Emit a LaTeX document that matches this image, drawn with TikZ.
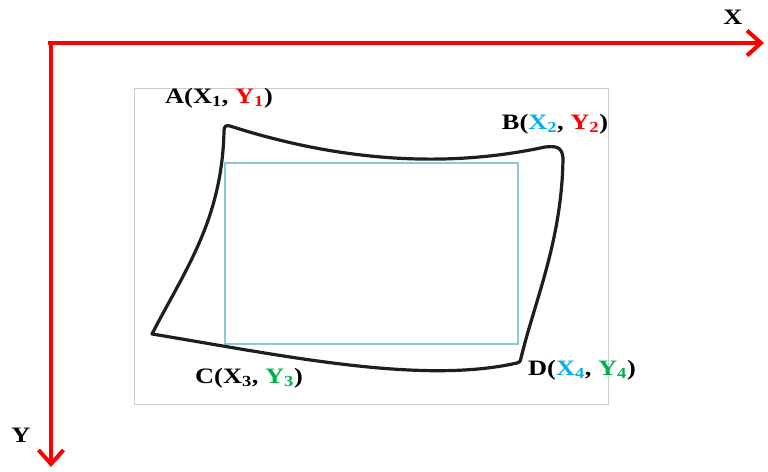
\documentclass[tikz,border=0pt]{standalone}
\usepackage{fontspec}
\usepackage{graphicx}
\setmainfont{Liberation Serif}
\usetikzlibrary{arrows.meta}
\definecolor{axred}{RGB}{255,0,0}
\definecolor{lblue}{RGB}{0,176,240}
\definecolor{lgreen}{RGB}{0,176,80}
\definecolor{rectcyan}{RGB}{140,200,215}
\definecolor{framegray}{RGB}{205,205,205}
\definecolor{curveblack}{RGB}{30,30,30}
\newcommand{\wide}[1]{\scalebox{1.2}[1]{#1}}
\tikzset{
  axis/.style={axred, line width=4pt, -{Straight Barb[length=14pt,width=25pt,line width=4pt]}},
  lbl/.style={font=\fontsize{22}{24}\selectfont\bfseries, inner sep=0pt},
  axlbl/.style={font=\fontsize{22}{24}\selectfont\bfseries, inner sep=0pt},
}
\begin{document}
\begin{tikzpicture}[x=1pt, y=-1pt]
\useasboundingbox (0,0) rectangle (768,471);
% frame
\draw[framegray, line width=1pt] (134,88) rectangle (608,404);
% axes
\coordinate (O) at (48,43);
\coordinate (Xend) at (764,43);
\coordinate (Ytop) at (51,41);
\coordinate (Yend) at (51,467);
\draw[axis] (O) -- (Xend);
\draw[axis] (Ytop) -- (Yend);
\node[axlbl] (xl) at (733,17) {\wide{X}};
\node[axlbl] (yl) at (21,435) {\wide{Y}};
% inner rectangle
\draw[rectcyan, line width=1.5pt] (225,163) rectangle (518,344);
% curved sheet
\draw[curveblack, line width=3.2pt, line join=round]
  (224,131) .. controls (224,126) and (226,125) .. (230,126)
  .. controls (320,155) and (430,172) .. (545,147)
  .. controls (555,146) and (562,146) .. (563,158)
  .. controls (562,240) and (535,300) .. (521,358)
  .. controls (520,362) .. (517,363)
  .. controls (420,385) and (280,355) .. (152,334)
  .. controls (185,270) and (222,220) .. (224,131) -- cycle;
% labels
\node[lbl] (la) at (219,98) {\wide{A(X\textsubscript{1}, \textcolor{axred}{Y\textsubscript{1}})}};
\node[lbl] (lb) at (555,124) {\wide{B(\textcolor{lblue}{X\textsubscript{2}}, \textcolor{axred}{Y\textsubscript{2}})}};
\node[lbl] (lc) at (249,378) {\wide{C(X\textsubscript{3}, \textcolor{lgreen}{Y\textsubscript{3}})}};
\node[lbl] (ld) at (582,370) {\wide{D(\textcolor{lblue}{X\textsubscript{4}}, \textcolor{lgreen}{Y\textsubscript{4}})}};
\end{tikzpicture}
\end{document}
